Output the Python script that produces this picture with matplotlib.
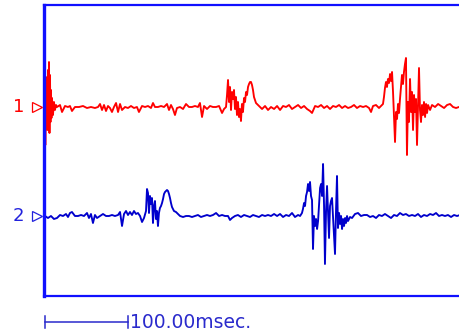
import matplotlib
matplotlib.use("Agg")
import matplotlib.pyplot as plt
from matplotlib.transforms import blended_transform_factory

# channel 1 (red): time in ms, amplitude in arbitrary units
t1 = [0.0, 0.4, 0.9, 1.2, 1.8, 2.4, 3.0, 3.6, 4.2, 4.8, 5.4, 6.0, 6.6, 7.2, 7.8, 8.4,
      9.6, 10.8, 12.0, 13.3, 14.5, 18.1, 20.5, 24.1, 27.7, 30.1, 32.5, 36.1, 41.0,
      45.8, 50.6, 55.4, 60.2, 63.9, 66.3, 68.7, 71.1, 73.5, 75.9, 78.3, 80.7, 83.1,
      85.6, 88.0, 90.4, 92.8, 96.4, 100.0, 103.6, 107.2, 110.8, 113.2, 116.9, 120.5,
      124.1, 127.7, 130.1, 132.5, 136.1, 139.8, 143.4, 147.0, 149.4, 151.8, 154.2,
      156.6, 159.0, 162.7, 166.3, 169.9, 173.5, 177.1, 180.7, 184.3, 186.7, 189.2,
      191.6, 195.2, 198.8, 202.4, 206.1, 209.7, 213.3, 215.7,
      218.1, 219.3, 220.5, 221.7, 222.9, 224.1, 225.3, 226.5, 227.7, 228.9, 230.1,
      231.3, 232.5, 233.7, 234.9, 236.1, 237.3, 238.5, 239.8, 241.0, 242.2, 243.4,
      244.6, 245.8, 247.0, 248.2, 249.4, 250.6, 251.8, 254.2, 256.6, 259.0, 261.5,
      265.1, 268.7, 272.3, 276.0, 279.6, 283.2, 286.8, 290.4, 294.0, 297.6, 301.2,
      304.9, 308.5, 312.1, 315.7, 319.3, 321.7, 325.4, 329.0, 332.6, 336.2, 339.8,
      343.4, 347.0, 350.6, 354.3, 357.9, 361.5, 365.1, 368.7, 372.3, 375.9, 379.6,
      383.2, 386.8, 390.4, 392.8, 395.2, 398.8, 402.4, 406.0,
      407.2, 408.4, 409.6, 410.8, 412.0, 413.2, 414.5, 415.7, 416.9, 418.1, 419.3,
      420.5, 421.7, 422.9, 424.1, 425.3, 426.5, 427.7, 428.9, 430.1, 431.3, 432.5,
      433.7, 434.9, 436.1, 437.3, 438.5, 439.8, 441.0, 442.2,
      443.4, 444.6, 445.8, 447.0, 448.2, 449.4, 450.6, 451.8, 453.0, 454.2, 455.4,
      456.6, 457.9, 459.1, 460.3, 461.5, 463.9, 466.3, 469.9, 473.6, 477.2, 480.8,
      484.4, 488.0, 491.6, 495.2, 498.8, 502.4]
v1 = [2.1, -3.8, 0.7, 2.7, -1.8, 3.0, -2.3, 3.7, -2.1, 4.5, -2.6, 3.2, -1.5, 1.7, -1.1, 0.9,
      -0.8, 0.5, -0.3, 0.2, 0.0, 0.2, -0.5, 0.1, 0.0, 0.1, -0.4, 0.0, 0.0,
      0.1, -0.1, 0.0, -0.1, 0.0, 0.3, -0.3, 0.2, -0.4, 0.1, -0.1, -0.5, 0.0,
      0.4, -0.5, 0.3, -0.3, 0.0, -0.1, 0.1, -0.1, 0.0, -0.5, 0.1, 0.0,
      0.1, -0.1, 0.4, 0.0, 0.0, 0.1, 0.0, 0.3, -0.3, 0.2, -0.2,
      -0.8, -0.1, 0.0, -0.2, 0.3, 0.0, 0.0, 0.1, 0.0, 0.4, -1.0,
      0.1, -0.2, 0.1, 0.0, 0.0, 0.1, -0.6, -0.2,
      0.0, 1.2, 2.7, 0.5, 2.0, -0.3, 1.5, 0.8, 1.7, -0.2, 1.0,
      -0.8, 0.5, -1.0, -0.2, -1.4, 0.3, -0.5, 0.9, 0.5, 1.5, 1.2,
      2.0, 2.3, 2.5, 2.5, 2.2, 1.7, 1.0, 0.4, 0.2, 0.0, -0.2,
      0.1, -0.3, 0.0, -0.2, 0.1, -0.3, 0.1, 0.0, 0.2, -0.2, 0.0,
      0.2, -0.1, 0.1, -0.2, -0.4, -0.6, 0.1, 0.0, 0.2, -0.1, 0.1,
      -0.2, 0.1, 0.0, 0.2, -0.1, 0.1, -0.1, 0.0, 0.2, -0.1, 0.1,
      0.0, 0.1, -0.1, -0.5, 0.1, 0.2, -0.1, 0.2,
      0.3, 1.0, 1.9, 2.5, 2.0, 2.8, 2.4, 3.3, 2.6, 3.5, 1.5,
      -1.0, -3.5, -0.5, -1.2, 0.3, -0.6, 0.8, 2.0, 3.2, 2.3, 3.5,
      4.3, 4.9, -4.8, 0.5, -1.5, 2.8, -0.5, 1.5,
      -2.3, 1.2, -0.5, 0.8, -3.8, 0.0, 3.9, -0.3, -1.5, 0.2, -0.8,
      0.5, -1.0, 0.3, -0.6, 0.2, -0.3, 0.2, 0.0, 0.3, 0.1, -0.1,
      0.2, 0.3, 0.0, -0.1, 0.0, 0.1]

# channel 2 (blue)
t2 = [0.0, 3.6, 7.2, 10.8, 14.5, 18.1, 21.7, 25.3, 27.7, 30.1, 32.5, 36.1, 39.8,
      43.4, 47.0, 50.6, 53.0, 55.4, 57.8, 60.2, 62.7, 66.3, 69.9, 73.5, 77.1, 80.7,
      84.3, 88.0, 90.4, 92.8, 95.2, 97.6, 100.0, 102.4, 104.8, 107.2, 109.6, 112.0,
      114.5, 116.9, 119.3, 121.7,
      122.9, 124.1, 125.3, 126.5, 127.7, 128.9, 130.1, 131.3, 132.5, 133.7, 134.9,
      136.1, 137.3, 138.5, 139.8, 141.0, 142.2, 143.4, 144.6, 145.8, 147.0, 148.2,
      149.4, 150.6, 151.8, 153.0, 155.4, 157.8, 160.2, 162.7,
      166.3, 169.9, 173.5, 177.1, 180.7, 184.3, 187.9, 191.6, 195.2, 198.8, 202.4,
      206.1, 209.7, 213.3, 216.9, 220.5, 222.9, 225.3, 228.9, 232.5, 236.1, 239.8,
      243.4, 247.0, 250.6, 254.2, 257.8, 261.5, 265.1, 268.7, 272.3, 276.0, 279.6,
      283.2, 286.8, 290.4, 294.0, 297.6, 301.2, 304.9, 307.3, 309.6,
      310.8, 312.1, 313.3, 314.5, 315.7, 316.9, 318.1, 319.3, 320.5, 321.7, 322.9,
      324.1, 325.4, 326.6, 327.8, 329.0, 330.2, 331.4, 332.6, 333.8, 335.0, 336.2,
      337.3, 338.6, 339.8, 341.0, 342.2, 343.4, 344.6, 345.8, 347.0, 348.2, 349.4,
      350.6, 351.8, 353.0, 354.3, 355.5, 356.7, 357.9, 359.1, 360.3, 361.5, 362.7,
      363.9, 365.1, 367.5, 369.9,
      373.5, 377.1, 380.7, 384.4, 388.0, 391.6, 395.2, 398.8, 402.4, 406.0, 409.6,
      413.2, 416.9, 420.5, 424.1, 427.7, 431.3, 434.9, 438.5, 442.2, 445.8, 449.4,
      453.0, 456.6, 460.3, 463.9, 467.5, 471.1, 474.7, 478.3, 481.9, 485.5, 489.2,
      492.8, 496.4, 500.0, 502.4]
v2 = [0.0, -0.2, 0.0, -0.3, -0.2, 0.1, 0.0, 0.2, -0.1, 0.3, 0.4, 0.0, 0.0,
      0.1, 0.0, 0.3, -0.2, 0.2, -0.7, 0.1, -0.2, 0.0, 0.2, 0.0, 0.0, 0.1,
      0.0, 0.1, 0.4, -1.0, 0.2, 0.5, 0.1, 0.4, 0.1, 0.5, 0.2, 0.3,
      0.0, -0.6, -0.2, 0.5,
      2.7, 2.3, 0.3, 2.0, 1.2, 1.8, -0.7, 1.0, 1.5, -0.3, 0.5,
      -1.0, 0.3, 0.8, 1.0, 1.3, 1.7, 2.2, 2.4, 2.5, 2.6, 2.5,
      2.2, 1.8, 1.3, 0.9, 0.5, 0.4, 0.2, 0.0,
      -0.1, 0.0, 0.0, -0.1, 0.0, 0.1, -0.1, 0.0, 0.1, 0.0, 0.1,
      0.3, 0.0, 0.1, 0.0, 0.0, -0.4, -0.2, 0.0, 0.1, -0.1, 0.1,
      0.0, -0.1, 0.1, 0.0, -0.1, 0.1, 0.0, 0.1, 0.0, 0.2, 0.0,
      0.2, -0.1, 0.1, 0.0, 0.3, -0.1, 0.1, 0.0, 0.3,
      0.7, 1.3, 1.0, 2.0, 2.4, 3.2, 2.5, 3.4, 2.0, 1.6, -3.3,
      0.0, -1.0, -0.3, -1.3, -0.5, 1.2, 2.8, 3.2, 2.0, 5.2, 1.0,
      -4.8, 0.5, 3.0, 0.5, -2.2, 1.0, 1.5, 1.8, 0.0, -2.0, -3.8,
      0.5, 4.0, -1.2, 0.3, -0.8, 0.0, -1.3, -0.3, -1.0, -0.2, -0.7,
      0.0, -0.5, -0.1, -0.2,
      0.2, 0.3, 0.0, 0.1, 0.1, -0.1, 0.0, -0.2, 0.1, 0.0, 0.2,
      0.0, -0.2, 0.1, 0.0, 0.3, 0.1, 0.2, 0.0, 0.1, 0.0, 0.2,
      -0.1, 0.1, 0.0, 0.2, 0.1, 0.3, 0.0, 0.1, 0.0, 0.1, -0.1,
      0.1, 0.0, 0.1, -0.1]

channel_labels = ["1", "2"]
scale_ms = 100.0
scale_text = "100.00msec."

W, H = 460, 333
fig = plt.figure(figsize=(W / 100, H / 100), dpi=100)
ax = fig.add_axes([44 / W, 37 / H, 418 / W, 291 / H])

offset1, offset2 = 18.9, 8.0
red = "#ff0000"
blue = "#0000cc"
frame = "#1010ff"

ax.plot(t1, [offset1 + v for v in v1], color=red, lw=1.35)
ax.plot(t2, [offset2 + v for v in v2], color=blue, lw=1.35)

ax.set_xlim(-1.2, 502.4)
ax.set_ylim(0, 29.1)
ax.set_xticks([])
ax.set_yticks([])
ax.spines["right"].set_visible(False)
for side in ["top", "bottom"]:
    ax.spines[side].set_color(frame)
    ax.spines[side].set_linewidth(1.6)
ax.spines["left"].set_color(frame)
ax.spines["left"].set_linewidth(2.4)

# channel labels with hollow markers to the left of the frame
for lab, off, col in zip(channel_labels, [offset1, offset2], [red, "#2222dd"]):
    y_fig = ax.transData.transform((0, off))[1] / H
    fig.text(18.5 / W, y_fig, lab, color=col, fontsize=13, ha="center", va="center")
    fig.lines.append(plt.Line2D([37 / W], [y_fig], transform=fig.transFigure,
                                marker=">", ms=7, mfc="none", mec=col, mew=0.9,
                                linestyle="none"))

# time scale bar under the plot
trans = blended_transform_factory(ax.transData, fig.transFigure)
ybar = 1 - 322 / H
ax.plot([0, scale_ms], [ybar, ybar], color="#2a2acc", lw=1.1, transform=trans, clip_on=False)
for xe in [0, scale_ms]:
    ax.plot([xe, xe], [ybar - 6 / H, ybar + 6 / H], color="#2a2acc", lw=1.1,
            transform=trans, clip_on=False)
ax.text(scale_ms + 2.5, ybar, scale_text, color="#2a2acc", fontsize=13.5,
        ha="left", va="center", transform=trans)

fig.savefig("out.png", dpi=100)
